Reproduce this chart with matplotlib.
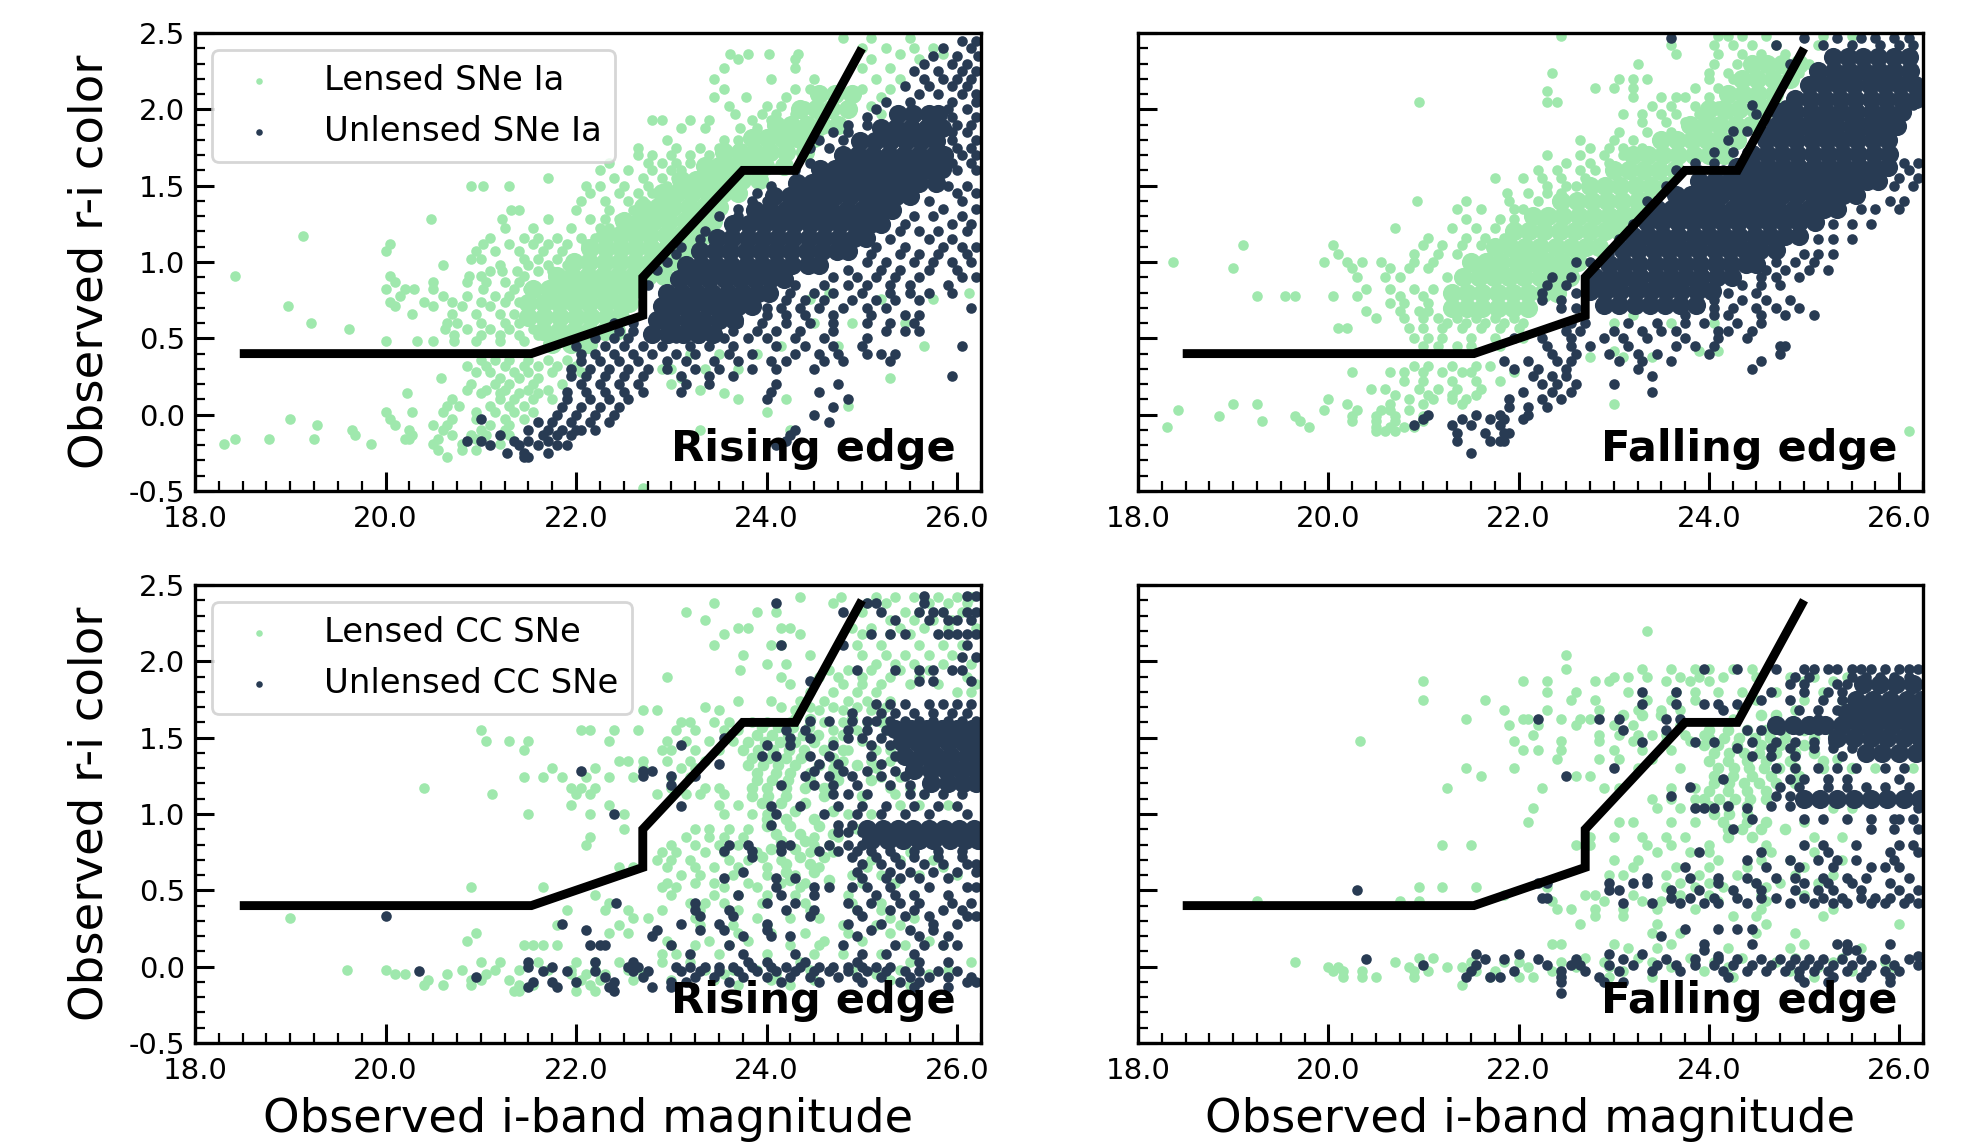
import matplotlib
matplotlib.use('Agg')
import matplotlib.pyplot as plt
from matplotlib.ticker import MultipleLocator, FormatStrFormatter

W, H = 1985, 1143
GREEN = '#9fe8ad'
NAVY = '#283b53'
cut_x = [18.47, 21.53, 22.7, 22.7, 23.75, 24.3, 25.0]
cut_y = [0.4, 0.4, 0.65, 0.9, 1.6, 1.6, 2.4]

# Values: {colour value: [magnitudes]}
# "core" lists stand for the solid, fully overlapped clouds; others are individual points.
ia_rise_lensed_core = {
 .46:[21.75,21.95,22.12], .55:[21.65,21.82,21.98,22.14,22.3,22.42], .64:[21.5,21.66,21.83,22.0,22.16,22.32,22.46],
 .73:[21.5,21.66,21.82,21.98,22.14,22.3,22.46,22.56], .82:[21.55,21.72,21.88,22.04,22.2,22.36,22.52,22.62],
 .91:[21.8,21.96,22.12,22.28,22.44,22.6,22.76,22.92], 1.0:[21.98,22.14,22.3,22.46,22.62,22.78,22.94,23.05],
 1.09:[22.15,22.31,22.47,22.63,22.79,22.95,23.1,23.2], 1.18:[22.3,22.46,22.62,22.78,22.94,23.1,23.26,23.34],
 1.27:[22.5,22.66,22.82,22.98,23.14,23.3,23.44], 1.36:[22.7,22.86,23.02,23.18,23.34,23.5],
 1.45:[22.9,23.06,23.22,23.38,23.54,23.7], 1.54:[23.1,23.26,23.42,23.58,23.74,23.92],
 1.63:[23.35,23.5,23.66,23.82,23.98,24.18], 1.72:[23.55,23.72,23.88,24.04,24.2,24.4],
 1.81:[23.85,24.0,24.16,24.32,24.5], 1.9:[24.1,24.26,24.42,24.58,24.75],
 2.0:[24.35,24.52,24.68,24.85], 2.1:[24.55,24.72,24.9]}
ia_rise_lensed = {
 2.47:[24.8,25.1,25.5], 2.4:[25.0,25.25,25.55,25.75], 2.36:[23.62,23.8,24.03,24.33,25.4,25.85], 2.33:[23.7,24.3,25.1,25.6],
 2.27:[23.55,24.3,25.0,25.3], 2.2:[23.45,24.05,24.5,25.15,25.4], 2.13:[23.55,24.3,24.45,25.0,25.3], 2.08:[23.45,23.78,24.2,25.2],
 2.02:[23.6,24.0,24.15,24.4,25.1], 1.97:[23.67,23.95,24.1,24.3,25.2], 1.93:[22.8,22.9,23.2,23.4,23.85,24.05],
 1.88:[23.1,23.35,23.72,23.9,24.1], 1.8:[22.95,23.7,23.55,23.85], 1.75:[23.05,23.3,23.5,23.7,22.65], 1.7:[22.65,22.8,23.0,23.2,23.4],
 1.65:[22.35,22.75,22.9,23.05,23.2], 1.6:[22.25,22.55,22.8,23.0,23.1], 1.55:[21.7,22.4,22.7,22.9,23.05],
 1.5:[20.9,21.02,21.3,22.1,22.25,22.5,22.75,22.95], 1.45:[22.15,22.45,22.65,22.8], 1.4:[22.05,22.3,22.7,22.55],
 1.34:[21.32,21.4,22.0,22.35,22.6], 1.28:[20.48,21.22,21.7,22.15,22.3,22.45], 1.22:[21.25,21.55,21.95,22.25,22.35],
 1.16:[21.1,21.45,21.6,21.8,22.05,22.2], 1.17:[19.13], 1.12:[20.05,21.02,21.3,21.55,21.7,21.9,22.1,22.3],
 1.07:[20.0,20.95,21.15,21.4,21.65,21.85,22.15], 1.02:[20.9,21.0,21.45,21.6,21.8,22.0], .98:[20.6,21.2,21.5,21.7,21.9],
 .94:[21.1,21.22,21.38,21.6,21.75], .91:[18.42,20.05,20.88,21.0,21.45], .87:[20.1,20.5,20.85,21.05,21.25,21.4],
 .82:[20.0,20.2,20.3,20.5,21.02,21.35,21.5], .78:[20.15,20.6,20.85,21.15,21.3], .74:[20.05,20.4,20.7,21.0,21.25,21.4],
 .71:[18.98,20.1,20.5,20.8,21.1], .66:[20.28,20.7,20.95,21.2,21.35,21.5], .6:[19.22,20.65,20.75,21.0,21.25,21.4,24.5,24.9,25.45],
 .56:[19.62,20.62,20.85,21.1,21.3,21.55], .52:[20.72,21.0,21.2,21.4,21.6], .48:[20.0,20.33,20.5,20.72,20.95,21.2,21.45],
 .36:[21.0,21.15,21.3,21.5,21.7,21.9], .32:[20.85,21.05,21.25,21.45,21.6,21.8,22.0], .28:[20.95,21.1,21.35,21.5,21.75,22.05],
 .24:[20.58,21.2,21.4,21.6,23.1,25.3], .2:[20.9,21.15,21.3,21.55,21.85,23.0], .16:[20.85,21.05,21.25,21.5,21.7,23.3],
 .14:[20.23,21.0,21.2,21.4,21.6,23.55], .1:[20.7,21.2,21.35,21.55,21.75,24.2,23.7], .06:[20.65,20.77,21.1,21.3,21.45,24.85],
 .02:[20.0,20.28,20.6,20.95,21.15,21.35,21.55,24.0], -.03:[19.0,20.05,20.7,20.95,21.25,21.45], -.07:[19.28,20.1,20.5,20.65,21.1,21.3],
 -.1:[19.65,20.25,20.6,21.0,21.25,23.3,24.25], -.13:[19.68,20.28,20.7,20.9,21.05,21.3], -.16:[18.42,18.78,19.25,20.2,20.25,20.55,20.95],
 -.19:[18.3,19.85,20.5,20.8,21.2], -.23:[20.55,20.8,20.95], -.28:[20.65], -.48:[22.7],
 .45:[24.15,25.65,24.75], .76:[24.45,25.2,25.75], .8:[26.12,24.65], .3:[23.0,23.35,23.7,22.9], .4:[23.2,23.9,23.5]}
ia_rise_unlensed_core = {
 .53:[22.8,22.96,23.12,23.28,23.44], .62:[22.85,23.01,23.17,23.33,23.5,23.66], .71:[22.9,23.06,23.22,23.38,23.54,23.7,23.85], .8:[22.95,23.11,23.27,23.43,23.59,23.75,23.91,24.02],
 .89:[23.08,23.24,23.4,23.56,23.72,23.88,24.04,24.18], .98:[23.15,23.31,23.47,23.63,23.79,23.95,24.11,24.27,24.43,24.55],
 1.07:[23.3,23.46,23.62,23.78,23.94,24.1,24.26,24.42,24.58,24.74,24.85], 1.16:[23.48,23.64,23.8,23.96,24.12,24.28,24.44,24.6,24.76,24.92,25.04],
 1.25:[23.65,23.81,23.97,24.13,24.29,24.45,24.61,24.77,24.93,25.09,25.2], 1.34:[23.88,24.04,24.2,24.36,24.52,24.68,24.84,25.0,25.16,25.32],
 1.43:[24.08,24.24,24.4,24.56,24.72,24.88,25.04,25.2,25.36,25.5], 1.52:[24.32,24.48,24.64,24.8,24.96,25.12,25.28,25.44,25.6,25.78],
 1.61:[24.56,24.72,24.88,25.04,25.2,25.36,25.52,25.68,25.84], 1.7:[24.8,24.96,25.12,25.28,25.44,25.6,25.76,25.86],
 1.79:[24.98,25.14,25.3,25.46,25.62,25.78], 1.88:[25.2,25.36,25.52,25.68,25.84], 1.97:[25.38,25.54,25.7,25.8]}
ia_rise_unlensed = {
 2.45:[26.05,26.2], 2.4:[25.85,26.15], 2.35:[25.75,26.0,26.22], 2.3:[25.65,25.95,26.1], 2.25:[25.55,25.8,26.05,26.2], 2.2:[25.65,25.85,26.0,26.15],
 2.15:[25.45,25.7,25.95,26.1], 2.1:[25.6,25.8,26.05,26.2], 2.05:[25.25,25.5,25.95,26.2], 2.0:[25.15,25.9,26.1], 1.95:[25.05,25.95,26.2],
 1.9:[24.85,25.05,26.0,26.15], 1.85:[24.7,24.85,25.95,26.1], 1.8:[24.55,24.8,25.95,26.2], 1.75:[24.45,24.65,26.0,26.15], 1.7:[26.05,26.2],
 1.65:[24.45,25.95,26.15], 1.6:[24.3,26.0,26.2], 1.5:[24.05,25.9,26.1], 1.45:[23.9,26.0,26.2], 1.4:[23.85,24.0,25.7,26.05], 1.35:[23.7,25.85,26.2],
 1.3:[23.5,23.7,25.55,25.75,26.05], 1.25:[25.45,25.95,26.15], 1.2:[23.35,25.4,25.6,25.8,26.1], 1.15:[23.3,25.3,25.7,25.95],
 1.1:[23.1,25.15,25.45,25.85,26.05,26.2], 1.05:[23.05,25.1,25.4,25.6,25.8,26.1], 1.0:[22.95,25.05,25.25,25.55,25.75,25.95,26.15], .95:[22.85,24.85,25.2,25.4,25.7,26.0],
 .9:[24.7,24.95,25.15,25.35,25.6,26.05,26.2], .85:[22.75,24.3,24.6,24.85,25.05,25.3,25.5,25.9], .8:[24.25,24.5,24.7,25.0,25.3,25.5,25.7,25.95],
 .75:[24.2,24.4,24.6,24.9,25.15,25.35,25.6], .7:[24.0,24.15,24.35,24.55,24.8,25.05,25.25,26.15], .65:[24.0,24.2,24.4,24.7,25.1,25.45,25.6],
 .6:[22.4,22.6,23.7,23.95,24.2,24.45,24.7,25.05,25.3,25.55], .55:[22.45,22.6,23.45,23.65,23.9,24.1,24.35,24.7,25.25,25.45,25.6],
 .5:[22.2,22.4,22.55,23.05,23.3,23.55,23.8,24.0,24.3,24.6,25.05], .45:[22.0,22.3,22.5,22.7,22.9,23.2,23.4,23.65,24.1,24.4,24.7,25.0,26.05],
 .4:[22.05,22.2,22.4,22.6,22.8,23.05,23.25,23.6,23.85,24.3,24.55,24.75,25.05,25.2,25.35], .35:[22.05,22.25,22.45,22.65,22.95,23.15,23.45,23.7,24.05,24.2,24.6,24.8,25.3],
 .3:[21.95,22.15,22.35,22.55,22.75,22.95,23.25,23.5,23.85,24.1,24.5], .25:[21.95,22.1,22.3,22.5,22.7,23.1,23.4,23.65,25.95],
 .2:[22.05,22.25,22.45,22.65,23.15,23.4,24.1,24.75], .15:[21.9,22.1,22.3,22.5,22.7,23.1,24.05,24.55], .1:[21.9,22.15,22.35,22.55,24.85,24.0],
 .05:[21.85,22.05,22.25,22.45,24.7], 0.0:[21.8,22.0,22.2,22.4,24.5], -.05:[21.6,21.75,21.95,22.15,22.35,24.65], -.1:[21.5,21.7,21.85,22.05,22.2,24.3,22.0],
 -.13:[21.2,21.65,21.8,21.95,24.25], -.17:[20.85,21.0,21.35,21.5,21.7,24.2], -.2:[21.1,21.4,21.6,21.8,24.1,21.9], -.25:[21.27,21.45,21.7], -.28:[21.45,21.5],
 -.03:[21.0]}

ia_fall_lensed_core = {
 .7:[21.3,21.46,21.62,21.78,21.94,22.1], .8:[21.3,21.46,21.62,21.78,21.94,22.1,22.26,22.4],
 .9:[21.42,21.58,21.74,21.9,22.06,22.22,22.38,22.54], 1.0:[21.5,21.66,21.82,21.98,22.14,22.3,22.46,22.62],
 1.1:[21.75,21.91,22.07,22.23,22.39,22.55,22.71,22.85], 1.2:[21.95,22.11,22.27,22.43,22.59,22.75,22.91,23.05],
 1.3:[22.15,22.31,22.47,22.63,22.79,22.95,23.1,23.2], 1.4:[22.45,22.61,22.77,22.93,23.09,23.25,23.35],
 1.5:[22.75,22.91,23.07,23.23,23.39,23.55], 1.6:[23.0,23.16,23.32,23.48,23.64], 1.7:[23.2,23.36,23.52,23.68,23.84,24.0,24.16],
 1.8:[23.5,23.66,23.82,23.98,24.14,24.3], 1.9:[23.8,23.96,24.12,24.28,24.44], 2.0:[24.0,24.16,24.32,24.48,24.6],
 2.1:[24.2,24.36,24.52,24.68], 2.2:[24.35,24.51,24.67,24.85], 2.3:[24.45,24.61,24.77,24.95]}
ia_fall_lensed = {
 2.48:[22.45,24.1,24.2,24.35,24.6,25.2,25.5], 2.42:[23.6,24.05,24.25,24.45,24.7,25.15], 2.36:[23.65,24.1,24.35,24.55,24.8,25.3,25.6], 2.3:[23.25,24.05,24.3,25.05],
 2.24:[22.35,24.0,24.2,24.95], 2.2:[23.05,23.2,23.35,24.0,24.25], 2.14:[22.8,23.0,23.2,23.85,24.1], 2.08:[23.2,23.5,23.65,23.75,24.0,24.4], 2.02:[23.4,23.6,23.85,24.1,24.3,24.75],
 1.97:[23.1,23.3,23.5,23.65,23.9,24.2,24.55], 1.92:[23.3,23.55,23.75,24.05], 1.85:[23.05,23.35,23.6,23.9,24.1], 2.05:[20.95,22.3,22.4], 2.12:[22.3],
 1.8:[22.65,23.0,23.2,23.45], 1.75:[22.75,22.95,23.1,23.3], 1.7:[22.3,22.65,22.9,23.1], 1.65:[22.5,22.75,22.95], 1.6:[22.2,22.4,22.65,22.8],
 1.55:[21.75,22.05,22.25,22.45,22.7], 1.5:[22.3,22.5,22.6], 1.45:[21.88,22.1,22.3,22.45], 1.4:[20.93,21.45,21.9,22.2,22.4], 1.35:[21.6,21.35,21.95,22.05],
 1.28:[21.45,21.95,22.2,21.8], 1.22:[20.7,21.3,21.55,21.75], 1.16:[21.05,21.45,21.65,21.85], 1.11:[19.1,20.05,21.0,21.2,21.4,21.6],
 1.05:[20.1,20.9,21.15,21.35], 1.0:[18.37,19.95,20.2,20.35,20.55,20.9,21.1], .96:[19.0,20.25,20.65,20.85,21.05], .9:[20.3,20.6,20.75,21.25],
 .82:[20.4,20.65,20.9,21.1], .78:[19.25,19.55,19.65,20.05,20.3,20.75,21.0], .73:[20.65,20.8,21.05], .68:[20.4,20.75,20.95,21.05],
 .63:[20.5,20.8,21.0,21.15,21.35,21.55,21.75,21.95], .6:[21.25,21.45,21.65,21.85,22.05,23.0,23.6,24.05], .57:[20.1,20.2,20.85,21.0,21.2,21.4,21.6,21.8,22.0], .5:[20.9,21.05,21.2,21.5,21.75,22.05], .45:[21.0,21.15,21.35,21.5,21.8],
 .32:[20.9,21.05,21.3,21.55,21.7], .28:[20.25,20.65,20.8,21.0,21.2,21.4,21.5,21.95], .22:[20.8,21.0,21.3,21.55,21.8],
 .17:[20.45,20.6,20.95,21.15,21.35,21.6], .13:[20.7,21.05,21.3,21.55], .1:[20.0,20.85,21.1,21.3,21.45], .07:[19.0,19.25,20.2,20.65,21.0,23.0,21.4],
 .03:[18.42,19.95,20.3,20.55,20.65,20.85], -.01:[18.85,19.65,20.25,20.5,20.7,21.0], -.04:[19.3,19.7,20.25,20.5,20.7,21.0],
 -.08:[18.3,19.8,20.5,20.65,20.8,20.9], -.11:[20.5,20.6,20.7,26.1], .65:[23.2], .42:[23.0,23.9,24.1], .38:[22.75,23.1,23.4]}
ia_fall_unlensed_core = {
 .72:[22.9,23.06,23.22,23.38,23.54,23.7,23.86], .81:[22.75,22.91,23.07,23.23,23.39,23.55,23.71,23.87,24.03],
 .9:[22.8,22.96,23.12,23.28,23.44,23.6,23.76,23.92,24.08,24.24], .99:[22.95,23.11,23.27,23.43,23.59,23.75,23.91,24.07,24.23,24.39,24.5],
 1.08:[23.1,23.26,23.42,23.58,23.74,23.9,24.06,24.22,24.38,24.54,24.7], 1.17:[23.2,23.36,23.52,23.68,23.84,24.0,24.16,24.32,24.48,24.64,24.8,24.95],
 1.26:[23.35,23.51,23.67,23.83,23.99,24.15,24.31,24.47,24.63,24.79,24.95,25.11], 1.35:[23.45,23.61,23.77,23.93,24.09,24.25,24.41,24.57,24.73,24.89,25.05,25.21,25.35],
 1.44:[23.65,23.81,23.97,24.13,24.29,24.45,24.61,24.77,24.93,25.09,25.25,25.41,25.55], 1.53:[23.9,24.06,24.22,24.38,24.54,24.7,24.86,25.02,25.18,25.34,25.5,25.66,25.78],
 1.62:[24.3,24.46,24.62,24.78,24.94,25.1,25.26,25.42,25.58,25.74,25.88], 1.71:[24.45,24.61,24.77,24.93,25.09,25.25,25.41,25.57,25.73,25.89],
 1.8:[24.6,24.76,24.92,25.08,25.24,25.4,25.56,25.72,25.88], 1.89:[24.7,24.86,25.02,25.18,25.34,25.5,25.66,25.82,25.98],
 1.98:[24.75,24.91,25.07,25.23,25.39,25.55,25.71,25.87,26.03], 2.07:[24.9,25.06,25.22,25.38,25.54,25.7,25.86,26.02,26.18],
 2.16:[25.05,25.21,25.37,25.53,25.69,25.85,26.01,26.17], 2.25:[25.15,25.31,25.47,25.63,25.79,25.95,26.11], 2.34:[25.3,25.46,25.62,25.78,25.94,26.1]}
ia_fall_unlensed = {
 2.47:[23.6,25.0,25.35,25.6,25.75,25.95,26.1], 2.42:[24.7,25.2,25.5,25.8,26.0,26.15], 2.3:[24.85], 2.03:[24.45,24.8,26.15], 1.97:[24.5], 1.86:[24.25,24.4,24.6],
 1.8:[24.2], 1.72:[24.05,24.25,24.4], 1.65:[23.85,24.05,26.05,26.2], 1.6:[23.65,23.9,24.15,26.1], 1.55:[26.0,26.2], 1.5:[23.55,25.95,26.15],
 1.4:[23.35,25.9,26.05], 1.35:[23.45,25.6,25.75,26.0], 1.25:[23.2,25.3,25.5,25.7], 1.15:[23.05,25.15,25.3,25.5], 1.05:[22.95,25.0,25.15,25.3],
 1.0:[22.6,22.75,24.7,24.9,25.1], .95:[24.6,24.8,25.05,25.25], .9:[22.35,22.55,24.55,24.7,24.95], .85:[22.3,22.5,24.35,24.55,24.75],
 .8:[22.25,22.6,24.2,24.5], .75:[22.25,22.45,24.05,24.35,24.6,24.85], .7:[22.45,22.6,23.9,24.05,24.25,24.5,24.7,24.95], .65:[23.75,24.05,24.2,24.55,24.8,25.1],
 .6:[22.55,22.7,23.15,23.45,23.75,23.95,24.3,24.55], .55:[22.5,22.65,23.0,23.3,23.5,23.65,24.1,24.2,24.45], .5:[21.95,22.25,22.55,22.9,23.1,23.35,23.75,24.1,24.4],
 .45:[22.3,22.55,22.75,23.15,23.65,23.85,24.05,24.75,24.8], .4:[22.35,22.6,22.95,23.25,23.45,24.0,24.75], .35:[21.85,22.1,22.4,22.55,23.05,23.3,23.6,24.55],
 .3:[21.95,22.2,22.5,23.25,24.45], .25:[22.15,22.35,22.5,23.4], .2:[22.25,22.4,22.6,23.0], .15:[22.05,22.35,22.55,23.4], .1:[21.9,22.25,22.45],
 .05:[21.9,22.1,22.3], 0.0:[21.05,21.55,21.8,22.1], -.03:[21.0,21.4,21.7,22.05,21.85], -.07:[20.9,21.3,21.5,21.8], -.12:[21.35,21.65,21.9,21.85], -.17:[21.35,21.7,21.85,21.8], -.25:[21.5]}

cc_rise_lensed_core = {
 1.62:[24.3,24.46,24.9,25.2], 1.57:[23.95,24.12,24.28,24.44], 1.52:[23.9,24.06,24.22,24.38,24.54,24.8], 1.47:[23.8,23.98,24.14,24.3,24.5], 1.42:[23.75,23.91,24.07,24.23,24.39,24.6,24.8], 1.37:[23.85,24.02,24.2,24.36,24.7],
 1.32:[23.8,23.96,24.12,24.3,24.55,24.95], 1.27:[23.9,24.1,24.25,24.45,24.7], 1.22:[23.9,24.06,24.22,24.45,24.75,25.1], 1.17:[23.85,24.0,24.2,24.4,24.6], 1.12:[23.85,24.01,24.2,24.6,25.0], 1.07:[23.95,24.15,24.4],
 1.02:[24.05,24.3,24.7], .97:[24.0,24.2,24.5], .92:[24.0,24.25,24.55], .87:[24.1,24.35,24.7], .82:[24.15,24.4], .77:[24.05,24.3], .72:[23.95,24.35,24.6], .67:[24.2,24.45], .62:[24.2,24.5], .57:[24.25,24.65]}
cc_rise_lensed = {
 2.42:[24.35,24.78,25.15,25.35,25.55,25.8,26.0,26.15], 2.38:[23.45,24.7,25.05,25.25,25.7,25.9,26.1], 2.32:[23.15,23.9,24.1,25.0,25.45,25.6,25.85,26.05],
 2.27:[23.35,25.3,25.55,25.75,25.95], 2.22:[23.7,23.8,24.15,24.25,24.9,25.1,25.4,25.65,25.9,26.2], 2.18:[23.55,24.35,25.0,25.3,25.5],
 2.11:[23.45,24.05,24.15,24.95,25.2,25.6,25.85,26.05], 2.04:[23.75,24.45,25.0,25.25,25.45,25.7,25.95], 1.98:[24.0,24.2,25.15,25.35,25.55,25.85,26.15],
 1.94:[23.72,24.65,24.85,25.1,25.4,25.7], 1.9:[22.95,24.15,24.55,24.75,25.0,25.3,25.6,26.1], 1.85:[24.25,24.8,25.0,25.2,25.5,25.8,26.2], 1.8:[24.45,24.7,24.95,25.15,26.0,26.15],
 1.74:[23.7,24.05,24.35,24.6,24.85,25.05,25.3], 1.7:[23.35,24.15,24.45,24.7,24.95,25.25], 1.68:[22.7,22.85,23.5,24.3,24.55,24.8,25.1],
 1.6:[23.1,23.2,23.45,23.6,23.85,24.0,24.25,24.6,24.8,25.05,25.2], 1.55:[21.0,22.05,22.15,22.4,22.65,23.05,23.25,23.55,23.7,24.7,24.95,25.25], 1.48:[21.05,21.3,21.5,22.35,22.95,23.15,23.4,23.65,24.7,25.0],
 1.42:[21.45,22.9,23.0,23.25,23.5,24.85,25.15,25.3], 1.35:[22.45,22.55,22.7,22.95,23.2,23.35,24.8,25.1,25.3], 1.3:[21.75,22.2,22.7,23.1,23.25,24.7,25.15],
 1.24:[21.45,21.65,21.85,22.1,22.35,22.6,23.0,23.2,24.7,25.2,25.4], 1.17:[20.4,21.95,22.05,22.2,23.0,23.35,23.5,24.65,25.3,25.5], 1.13:[21.12,22.0,22.15,22.85,23.15,23.3,23.55,25.35,25.65],
 1.06:[21.95,22.35,23.5,23.7,25.4,25.6,25.9], 1.0:[21.5,22.15,22.5,23.55,23.85,24.0,24.85,25.1], .9:[22.5,23.25,23.4,23.6,23.8,24.95], .85:[22.15,23.15,23.4,23.55,23.75,24.5,24.75],
 .8:[22.1,23.0,23.25,23.5,23.7,24.5,24.65], .75:[22.9,23.05,23.35,23.55,23.9,24.45,24.7,25.5], .7:[22.85,23.0,23.2,23.6,23.8,24.15,25.1,25.4,25.75], .65:[22.45,22.6,22.95,23.25,23.45,23.7,24.0,24.55,25.05,25.85],
 .6:[23.1,23.3,23.65,24.0,24.3,24.9,25.2,25.6,26.0], .55:[22.95,23.25,23.45,23.8,24.15,24.4,25.0,25.35], .52:[20.9,21.65,22.9,23.05,23.55,23.9,24.35], .47:[22.2,23.0,23.45,23.7,24.0,24.3,24.85,25.55],
 .42:[22.35,23.2,23.35,23.55,23.95,24.4,24.9,25.2], .37:[21.9,22.3,22.55,22.9,23.3,23.7,24.45,24.95,25.2], .32:[19.0,22.6,22.75,23.25,23.9,24.25,24.55,25.3,25.55], .27:[21.8,22.45,23.3,23.65,24.0,24.8,25.15,25.4],
 .22:[20.95,22.35,22.55,23.7,24.05,24.4,24.85,25.3], .17:[20.85,22.95,23.4,23.8,24.6,25.0,25.7], .14:[21.45,21.55,21.65,21.8,23.0,23.25,23.6,24.25,24.55,25.45,25.85], .08:[22.9,23.05,23.5,24.0,24.5,24.8,25.2],
 .03:[21.0,21.2,21.6,22.0,22.2,22.45,22.9,23.2,24.35,25.5,26.15], -.02:[19.6,20.0,20.8,21.15,21.4,21.7,21.95,22.2,22.55,23.35,23.65,23.9,24.45,24.9,25.4,25.9],
 -.05:[20.1,20.2,20.65,21.05,21.95,22.1,22.3,22.7,23.55,24.1,25.15,25.7], -.09:[20.45,20.9,21.0,21.3,22.05,22.25,22.6,23.0,23.45,24.05,24.5,25.3], -.12:[20.4,20.6,20.9,21.4,21.55,22.15,23.7,24.25,25.5],
 -.16:[21.35,21.4,22.0,22.2]}
cc_rise_unlensed_core = {
 1.56:[25.35,25.52,25.68,25.84,26.0,26.16], 1.47:[25.42,25.58,25.74,25.9,26.06,26.22], 1.38:[25.45,25.62,25.78,25.94,26.1,26.24], 1.29:[25.55,25.72,25.88,26.04,26.2],
 1.2:[25.72,25.9,26.06,26.2], .9:[25.05,25.22,25.38,25.54,25.7,25.86,26.02,26.18], .83:[25.1,25.27,25.43,25.6,25.75,25.92,26.08,26.22]}
cc_rise_unlensed = {
 2.43:[25.65,26.1,26.2], 2.38:[24.1,25.05,25.15,25.65], 2.32:[24.8,25.2,25.6,25.75,25.85,26.1,26.2], 2.27:[25.35,25.7,25.9,26.0,26.15], 2.18:[25.1,25.3,25.45,25.8,25.9,26.0,26.1,26.2],
 2.11:[24.15,24.8,26.1], 2.03:[26.05,26.2], 1.94:[24.95,25.35,25.6,25.75,25.95,26.05], 1.87:[24.45,25.6,25.75,26.15], 1.72:[25.15,25.3,25.45,25.7,25.85,26.0,26.15], 1.66:[24.9,25.2,25.35,25.55,25.75,25.95,26.1],
 1.61:[24.45,24.65,24.9,25.05,25.15,25.3,25.45,25.6,25.75,25.9,26.05,26.2], 1.55:[24.2,24.4,24.85,25.05,25.25], 1.5:[23.55,24.25,24.45,24.85,25.0,25.2], 1.45:[23.1,24.0,24.25,24.7,25.1,25.3], 1.38:[23.95,24.1,24.45,24.65,25.1,25.35], 1.33:[23.5,24.55,24.75,25.2],
 1.28:[22.05,22.7,22.8,24.5,24.8,25.05,25.35], 1.25:[22.7,23.25,23.0,24.4,24.65,24.9,25.2,25.45], 1.19:[23.0,24.15,24.5,24.7,24.95,25.3,25.5], 1.13:[24.7,24.85,25.05,25.5,25.65,25.85,26.05], 1.05:[23.1,24.05,24.35,24.75,25.0,25.25,25.55,25.8,26.0], 1.0:[22.4,24.1,24.6,24.95,25.2,25.45,25.7,26.1],
 .93:[24.05,24.75,24.9], .88:[24.75,24.85,25.0], .8:[23.6,23.8,24.15,24.25,24.65,24.85,25.0], .76:[23.55,23.85,24.15,24.55,24.75,24.95,25.1,25.3,25.55,25.8,26.05], .72:[23.85,24.9,25.15,25.35,25.55,25.8,26.05], .67:[25.0,25.2,25.4,25.65,25.85,26.1,26.2],
 .62:[23.75,24.95,25.3,25.5,25.75,26.0,26.2], .58:[23.55,24.1,24.3,25.0,25.25,25.4,25.6,25.9], .52:[24.1,24.5,24.65,24.9,25.05,25.3,25.7,26.1,26.2], .47:[23.7,24.15,24.5,25.15,25.35,25.55,25.9],
 .42:[22.42,23.25,24.0,24.3,24.85,25.1,25.4,25.6,25.95,26.15], .37:[23.25,23.6,24.2,24.5,24.95,25.3,25.55,25.85,26.05], .33:[20.0,23.3,23.65,24.45,25.0,25.45,25.7,26.1,26.2], .28:[21.85,23.1,23.5,24.0,24.85,25.2,25.75,26.0],
 .24:[22.1,22.85,23.3,23.55,24.0,25.1,25.5,25.75], .2:[22.8,23.75,24.05,24.25,24.95,25.6,25.9], .14:[22.15,22.25,22.3,23.0,23.6,24.8,25.35,25.65,25.85,26.0], .08:[23.2,23.75,24.3,25.0,25.25,25.55],
 .03:[21.5,22.2,22.6,23.8,24.0,24.4,24.95,25.6,25.9], 0.0:[21.5,21.75,22.55,22.65,23.05,23.2,23.35,23.5,23.65,23.85,24.05,24.2,24.35,24.55,24.7,24.85,25.0,25.15,25.3],
 -.03:[20.35,21.65,21.9,22.2,22.6,22.75,23.1,23.3,23.5,23.7,23.9,24.1,24.3,24.5,24.65,24.85,25.05,25.25,25.45,25.6,25.8,26.0],
 -.07:[20.95,22.3,22.7,23.25,23.45,23.75,24.0,24.25,24.45,24.75,24.95,25.2,25.5,25.7,25.9,26.15], -.1:[21.55,21.75,22.0,22.4,23.0,23.15,23.6,24.15,24.55,25.0,25.4,25.6,26.1,26.2],
 -.13:[21.5,21.8,22.35,22.8,23.0,25.55,25.9], -.16:[22.4]}

cc_fall_lensed_core = {
 1.65:[23.1,23.3,23.5,24.55,24.7], 1.55:[24.0,24.2,24.4,24.6,24.8,25.0], 1.5:[24.0,24.16,24.32,24.48,24.64,24.8,25.1], 1.45:[23.95,24.1,24.3,24.55,24.75,25.0], 1.4:[24.05,24.21,24.37,24.53,24.7,24.9,25.1], 1.35:[24.0,24.2,24.4,24.6,24.85,25.2],
 1.3:[24.1,24.26,24.42,24.58,24.74,24.9,25.2,25.5], 1.25:[24.05,24.25,24.45,24.65,24.95], 1.2:[24.05,24.21,24.37,24.53,24.7,24.9], 1.15:[24.0,24.2,24.4,24.6], 1.1:[23.95,24.11,24.27,24.43,24.6], 1.05:[24.0,24.2,24.4],
 1.0:[24.05,24.21,24.4], .95:[24.15,24.4,24.6], .9:[24.2,24.35,24.55,24.8], .85:[24.2,24.45]}
cc_fall_lensed = {
 2.2:[23.35], 2.04:[22.5], 1.95:[22.5,23.3,23.6,23.85,24.0,24.25,24.45], 1.9:[23.0,23.15,23.35,23.7,23.9,24.15,24.5,24.85,25.1,25.45], 1.87:[21.0,22.05,22.3,22.8,22.95,23.55,23.8,24.0,25.0,25.3],
 1.8:[22.3,22.6,23.15,23.65,23.85,24.1,24.35,24.7,25.2], 1.75:[21.0,21.65,22.55,22.8,23.35,23.6,23.85,24.5,25.0,25.4], 1.68:[21.85,22.3,22.85,23.25,23.5,23.7,24.35,24.9,25.5],
 1.62:[21.45,22.05,22.1,22.45,22.65,22.75,24.25], 1.58:[21.9,22.2,22.6,23.0,23.2,23.7], 1.52:[22.15,22.85,23.05,23.25,23.4,23.55,23.75,23.95,25.3,25.65], 1.48:[20.33,21.95,22.45,22.85,23.2,23.55,23.8],
 1.42:[22.05,22.2,22.45,23.0,23.3,23.6], 1.36:[22.4,22.85,23.05,23.4,25.35], 1.3:[21.45,21.95,23.25,23.7,25.75,26.15], 1.25:[21.6,22.6,22.75], 1.17:[21.25,22.25,22.9,23.05,23.6,23.85],
 1.1:[23.4,23.6,23.85,25.65,26.0], 1.04:[22.15,23.45,23.7,25.3,25.5], .95:[22.1,23.05,23.2,23.6,23.85,25.0], .85:[22.75,23.0,23.3,23.75,23.55,25.1,25.4], .8:[21.2,21.5,22.6,22.75,23.35,23.6,24.0,24.6],
 .75:[23.45,23.8,24.0,24.65,25.1], .7:[23.0,23.25,24.1,24.55,24.85,25.4], .65:[23.2,23.65,24.0,24.4,25.0], .6:[22.95,23.1,23.55,23.9,24.3,24.9,25.3], .55:[23.7,24.0,24.5,24.75,25.15],
 .52:[20.95,21.2,21.55,22.3,23.55,23.85,24.15,24.6], .47:[21.85,22.7,22.8,23.2,23.7,24.0,24.55,25.0], .43:[19.25,20.75,20.95,22.35,22.9,23.3,23.5,24.1,24.6],
 .38:[22.4,22.55,22.8,23.1,23.45,23.85,24.55,25.3], .33:[22.8,23.1,24.25,24.5,25.2], .28:[22.65,23.45,24.6,26.0], .22:[23.4,23.7,24.5,24.9], .15:[22.35,22.45,23.6,23.0,25.0], .12:[23.45,24.2,24.85,25.6,23.15],
 .06:[20.95,21.1,22.7,23.25,23.8,24.35,24.9,25.4], .03:[19.65,20.7,21.5,21.85,22.0,22.45,22.9,23.4,24.05,24.7,25.3,25.85], 0.0:[20.0,20.1,20.85,21.25,21.4,22.1,22.6,22.95,23.6,24.2,25.15,25.95],
 -.03:[20.05,20.15,20.35,20.9,21.05,21.55,21.75,22.35,23.1,23.95,24.85,25.5], -.07:[20.15,20.35,20.5,20.9,21.7,22.0,22.15,22.95,23.4,24.25,25.1], -.12:[21.4]}
cc_fall_unlensed_core = {
 1.58:[24.7,24.88,25.05,25.22,25.4,25.58,25.75,25.92,26.1,26.24], 1.5:[25.35,25.52,25.7,25.87,26.05,26.22], 1.85:[25.62,25.8,25.97,26.15], 1.75:[25.55,25.72,25.9,26.08,26.24], 1.66:[25.45,25.62,25.8,25.98,26.15], 1.4:[25.65,25.82,26.0,26.18], 1.1:[25.0,25.17,25.35,25.52,25.7,25.87,26.05,26.22]}
cc_fall_unlensed = {
 1.95:[23.95,24.3,24.7,25.0,25.1,25.25,25.35,25.5,25.6,25.7,25.85,26.0,26.1,26.2], 1.9:[24.9,25.05,25.5,25.65,25.8,25.95,26.1], 1.85:[24.85,25.0,25.35,25.45], 1.8:[23.65,23.3,24.65,25.0,25.25,25.4],
 1.75:[24.55,24.85,25.2,25.4], 1.72:[23.3,23.65,23.95,24.1,24.3], 1.68:[24.15,24.95,25.15,25.35], 1.62:[22.2,22.85,23.05,23.7,23.55,25.15], 1.55:[23.1,23.55,24.4,24.55,24.75,24.95,25.15],
 1.47:[23.3,23.85,24.05,24.45,24.7,24.9,25.1,25.3], 1.43:[24.3,24.65,24.85,25.1,25.3,25.5], 1.38:[24.45,24.65,24.9,25.4], 1.3:[23.0,24.7,24.9,25.15,25.35,25.55,25.85,26.05], 1.23:[24.15,24.85,25.0,25.25,25.45,26.0],
 1.25:[22.5], 1.18:[23.8,24.75,24.95,25.25,25.45,25.65,25.85,26.1], 1.12:[23.6,24.7,24.85], 1.05:[24.2,24.65,24.85], 1.04:[23.85,23.95,24.05,24.4,26.2], .97:[24.45,25.0,25.2,25.45,25.7,25.95,26.15,26.0], .9:[24.25,25.7,25.95,26.2],
 .8:[25.0,25.2,25.55,26.0,26.15], .75:[23.9,24.55,25.25,25.9,26.2], .7:[24.4,24.85,25.15,25.35,25.55,25.95], .65:[23.75,24.6,24.95,25.3,25.7,25.85,26.0], .58:[23.35,23.8,24.1,24.4,24.7,24.9,25.2,25.45,25.65,26.1],
 .55:[22.2,22.3,22.95,23.2,23.35,24.1,24.5,25.0,25.25,25.5,25.9], .5:[20.3,22.95,23.05,23.6,23.9,24.25,24.55,24.9,25.15,25.3,25.6,26.0,26.2], .45:[22.25,22.3,23.6,23.8,24.05,24.3,24.55,24.7,25.0,25.2,25.4,25.6,25.75,25.9,26.1],
 .42:[23.1,23.4,23.7,23.95,24.1,24.4,24.85,25.1,25.3,25.45,25.7,25.85,26.05,26.2], .25:[23.75,24.1,24.3,24.45], .2:[23.5], .15:[23.95,24.45,25.35,25.45,25.9], .11:[23.95,25.45,25.55], .07:[24.1,26.2],
 .08:[21.55,22.0,22.95,23.3], .05:[20.4,21.65,21.85,22.2,22.6,23.1,23.55,23.85,24.1,24.3,24.55,24.75,24.9,25.05,25.2,25.4,25.6,25.85,26.1],
 .01:[21.0,21.55,22.3,22.55,22.65,22.95,23.2,23.45,23.65,23.85,24.05,24.25,24.45,24.65,24.85,25.0,25.15,25.3,25.5,25.7,25.95,26.2],
 -.03:[21.5,21.95,22.45,22.7,23.05,23.4,23.7,24.15,24.4,24.6,24.8,24.95,25.1,25.25,25.45,25.65,25.85,26.0], -.07:[21.45,21.7,21.8,22.45,22.85,24.2,24.95,25.3,25.6,25.9], -.1:[22.45,22.9,23.1,25.0,25.25,25.9],
 -.17:[22.45]}

def expand(rows):
    xs, ys = [], []
    for y, row in rows.items():
        for x in row:
            xs.append(x); ys.append(y)
    return xs, ys

S_DOT, S_CORE, S_LOOSE = 58, 190, 70
fig = plt.figure(figsize=(W/100, H/100), dpi=100)
panels = [
 ((195, 33, 981, 491), 'Rising edge', ('Lensed SNe Ia', 'Unlensed SNe Ia'), ia_rise_lensed_core, ia_rise_lensed, ia_rise_unlensed_core, ia_rise_unlensed, S_CORE),
 ((1138, 33, 1923, 491), 'Falling edge', None, ia_fall_lensed_core, ia_fall_lensed, ia_fall_unlensed_core, ia_fall_unlensed, S_CORE),
 ((195, 585, 981, 1043), 'Rising edge', ('Lensed CC SNe', 'Unlensed CC SNe'), cc_rise_lensed_core, cc_rise_lensed, cc_rise_unlensed_core, cc_rise_unlensed, S_LOOSE),
 ((1138, 585, 1923, 1043), 'Falling edge', None, cc_fall_lensed_core, cc_fall_lensed, cc_fall_unlensed_core, cc_fall_unlensed, S_LOOSE),
]
for i, (b, e, lg, lc, ld, uc, ud, green_core_size) in enumerate(panels):
    ax = fig.add_axes([b[0]/W, 1-b[3]/H, (b[2]-b[0])/W, (b[3]-b[1])/H])
    ax.scatter(*expand(lc), s=green_core_size, color=GREEN, lw=0)
    ax.scatter(*expand(ld), s=S_DOT, color=GREEN, lw=0, label=lg[0] if lg else None)
    ax.scatter(*expand(uc), s=S_CORE, color=NAVY, lw=0)
    ax.scatter(*expand(ud), s=S_DOT, color=NAVY, lw=0, label=lg[1] if lg else None)
    ax.plot(cut_x, cut_y, color='k', lw=6.4, solid_joinstyle='miter', solid_capstyle='butt')
    ax.set_xlim(18, 26.25); ax.set_ylim(-0.5, 2.5)
    ax.xaxis.set_major_locator(MultipleLocator(2)); ax.xaxis.set_minor_locator(MultipleLocator(0.25))
    ax.yaxis.set_major_locator(MultipleLocator(0.5)); ax.yaxis.set_minor_locator(MultipleLocator(0.1))
    ax.xaxis.set_major_formatter(FormatStrFormatter('%.1f')); ax.yaxis.set_major_formatter(FormatStrFormatter('%.1f'))
    ax.tick_params(which='major', direction='in', length=14, width=2.2, labelsize=21)
    ax.tick_params(axis='x', which='major', pad=10)
    ax.tick_params(axis='y', which='major', pad=7)
    ax.tick_params(which='minor', direction='in', length=7, width=1.6)
    for s in ax.spines.values(): s.set_linewidth(2.4)
    if i % 2: ax.tick_params(axis='y', labelleft=False)
    else: ax.set_ylabel('Observed r-i color', fontsize=33.5, labelpad=12)
    if i >= 2: ax.set_xlabel('Observed i-band magnitude', fontsize=33.4, labelpad=9)
    ax.text(0.968, 0.045, e, transform=ax.transAxes, ha='right', va='bottom', fontsize=31, fontweight='bold')
    if lg:
        leg = ax.legend(loc='upper left', fontsize=24.4, markerscale=0.62, borderaxespad=0.5, labelspacing=0.55, handletextpad=0.9)
        leg.get_frame().set_edgecolor('#cccccc'); leg.get_frame().set_linewidth(2)
fig.savefig('out.png', dpi=100)
